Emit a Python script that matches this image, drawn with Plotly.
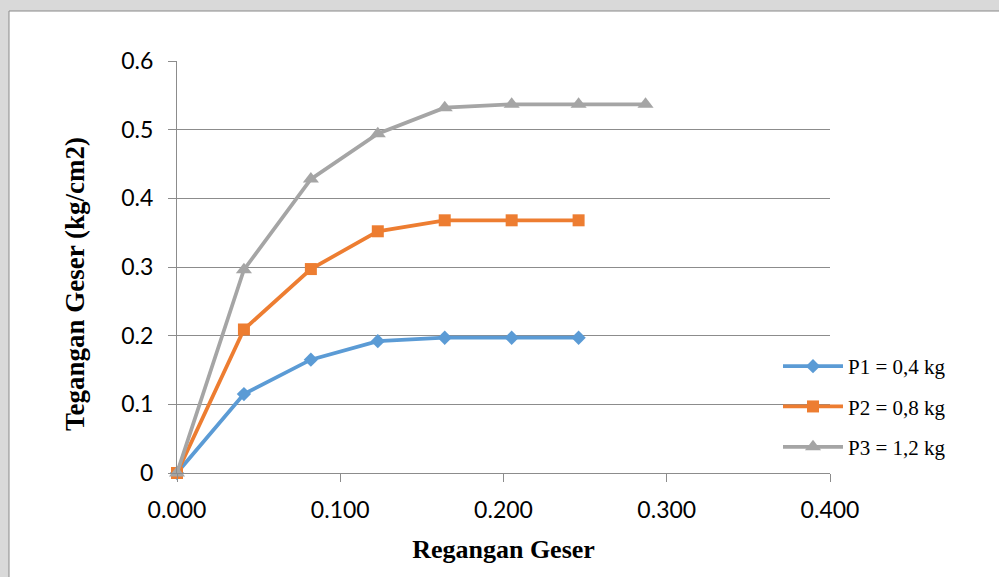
import plotly.graph_objects as go

strain = [0.000, 0.041, 0.082, 0.123, 0.164, 0.205, 0.246, 0.287]
p1 = [0.000, 0.115, 0.165, 0.192, 0.197, 0.197, 0.197]
p2 = [0.000, 0.209, 0.297, 0.352, 0.368, 0.368, 0.368]
p3 = [0.000, 0.296, 0.428, 0.494, 0.532, 0.537, 0.537, 0.537]
names = ["P1 = 0,4 kg", "P2 = 0,8 kg", "P3 = 1,2 kg"]
colors = ["#5B9BD5", "#ED7D31", "#A5A5A5"]
symbols = ["diamond", "square", "triangle-up"]
msizes = [11, 12, 14]
x_ticks = [0.0, 0.1, 0.2, 0.3, 0.4]
y_ticks = [0, 0.1, 0.2, 0.3, 0.4, 0.5, 0.6]
y_ticklabels = ["0", "0.1", "0.2", "0.3", "0.4", "0.5", "0.6"]

fig = go.Figure()
for i, ys in enumerate([p1, p2, p3]):
    fig.add_trace(go.Scatter(
        x=strain[:len(ys)], y=ys, name=names[i], mode="lines+markers",
        line=dict(color=colors[i], width=3.75),
        marker=dict(symbol=symbols[i], size=msizes[i], color=colors[i]),
        legendgroup=f"g{i}", cliponaxis=False,
    ))

L, R, T, B = 177, 169, 61, 104
W, H = 999, 577
pw, ph = W - L - R, H - T - B
def px(x):
    return (x - L) / pw
def py(y):
    return (H - B - y) / ph

serif = "Liberation Serif, Times New Roman, serif"

fig.add_shape(type="rect", xref="paper", yref="paper",
              x0=px(9), x1=px(1010), y0=py(11), y1=py(590),
              fillcolor="white", line=dict(color="#898989", width=1), layer="below")

fig.add_annotation(xref="paper", yref="paper", x=px(75), y=py(284),
                   text="<b>Tegangan Geser (kg/cm2)</b>", textangle=-90, showarrow=False,
                   xanchor="center", yanchor="middle",
                   font=dict(family=serif, size=27, color="black"))

fig.update_layout(
    width=W, height=H,
    margin=dict(l=L, r=R, t=T, b=B, pad=0),
    paper_bgcolor="#d9d9d9", plot_bgcolor="white",
    font=dict(family="Lato, sans-serif", color="black"),
    showlegend=True,
    legend=dict(x=px(778), y=py(346), xanchor="left", yanchor="top",
                bgcolor="rgba(0,0,0,0)", tracegroupgap=10, itemwidth=60,
                font=dict(family=serif, size=21, color="black")),
    xaxis=dict(range=[0, 0.4], tickvals=x_ticks, tickformat=".3f",
               showgrid=False, zeroline=False, showline=True, linecolor="#8c8c8c", linewidth=1,
               ticks="outside", ticklen=8, tickcolor="#8c8c8c", tickfont=dict(size=23),
               ticklabelstandoff=8,
               title=dict(text="<b>Regangan Geser</b>", standoff=18,
                          font=dict(family=serif, size=26))),
    yaxis=dict(range=[0, 0.6], tickvals=y_ticks, ticktext=y_ticklabels,
               showgrid=True, gridcolor="#8c8c8c", gridwidth=1, zeroline=False,
               showline=True, linecolor="#8c8c8c", linewidth=1,
               ticks="outside", ticklen=8, tickcolor="#8c8c8c", tickfont=dict(size=23),
               ticklabelstandoff=10),
)
fig.write_html("out.html")
